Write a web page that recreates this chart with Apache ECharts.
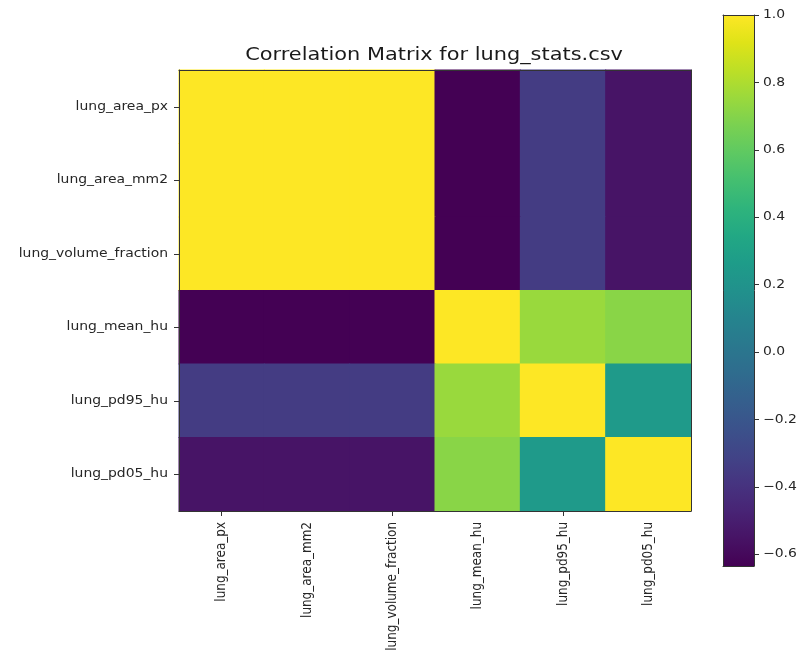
<!DOCTYPE html>
<html>
<head>
<meta charset="utf-8">
<title>Correlation Matrix for lung_stats.csv</title>
<script src="https://cdn.jsdelivr.net/npm/echarts@6/dist/echarts.min.js"></script>
<style>
  html, body { margin: 0; padding: 0; background: #fff; }
  #chart { width: 798px; height: 655px; }
</style>
</head>
<body>
<div id="chart"></div>
<script>
// Variables of the correlation matrix (same order on both axes)
const variables = ['lung_area_px', 'lung_area_mm2', 'lung_volume_fraction', 'lung_mean_hu', 'lung_pd95_hu', 'lung_pd05_hu'];

// Pearson correlation rows, one per variable
const rowAreaPx   = [1.0, 1.0, 1.0, -0.635, -0.35, -0.55];
const rowAreaMm2  = [1.0, 1.0, 1.0, -0.635, -0.35, -0.55];
const rowVolFrac  = [1.0, 1.0, 1.0, -0.635, -0.35, -0.55];
const rowMeanHu   = [-0.635, -0.635, -0.635, 1.0, 0.75, 0.71];
const rowPd95Hu   = [-0.35, -0.35, -0.35, 0.75, 1.0, 0.25];
const rowPd05Hu   = [-0.55, -0.55, -0.55, 0.71, 0.25, 1.0];
const matrixRows = [rowAreaPx, rowAreaMm2, rowVolFrac, rowMeanHu, rowPd95Hu, rowPd05Hu];

// Colour scale range and colourbar ticks
const colorMin = -0.635;
const colorMax = 1.0;
const colorbarTicks = [-0.6, -0.4, -0.2, 0.0, 0.2, 0.4, 0.6, 0.8, 1.0];

// Viridis colormap stops every 5% (low -> high)
const viridis = [
  '#440154', '#471365', '#482475', '#463480', '#414487', '#3b528b', '#355f8d',
  '#2f6c8e', '#2a788e', '#25848e', '#21918c', '#1e9c89', '#22a884', '#2fb47c',
  '#44bf70', '#5ec962', '#7ad151', '#9bd93c', '#bddf26', '#dfe318', '#fde725'
];

const heatData = [];
matrixRows.forEach((row, r) => {
  row.forEach((v, c) => heatData.push([c, r, v]));
});

const textColor = '#262626';
const fontFamily = 'DejaVu Sans';
const labelSize = 12;
const stretch = 1.16;   // the figure is rendered slightly wider than tall

const chart = echarts.init(document.getElementById('chart'), null, { renderer: 'canvas' });

const frameAxis = {
  show: true,
  z: 10,
  axisLine: { show: true, onZero: false, lineStyle: { color: '#333', width: 1 } },
  axisTick: { show: false },
  axisLabel: { show: false },
  splitLine: { show: false }
};

const tickStyle = { show: true, length: 5, lineStyle: { color: '#333' } };

function labelText(x, y, text, align, rotation) {
  const el = {
    type: 'text',
    x: x, y: y,
    rotation: rotation || 0,
    style: {
      text: text, fill: textColor, font: labelSize + 'px "' + fontFamily + '"',
      align: align, verticalAlign: 'middle'
    }
  };
  if (rotation) { el.scaleY = stretch; } else { el.scaleX = stretch; }
  return el;
}

chart.setOption({
  animation: false,
  backgroundColor: '#ffffff',
  graphic: [{
    type: 'text',
    x: 434, y: 55,
    scaleX: stretch,
    style: {
      text: 'Correlation Matrix for lung_stats.csv',
      font: '18px "DejaVu Sans"', fill: '#1a1a1a',
      align: 'center', verticalAlign: 'middle'
    }
  }],
  grid: [
    { left: 179, top: 70, width: 512, height: 441 },
    { left: 723, top: 15, width: 31, height: 551 }
  ],
  xAxis: [
    {
      type: 'category', gridIndex: 0, data: variables, position: 'bottom', z: 10,
      axisLine: { show: true, onZero: false, lineStyle: { color: '#333' } },
      axisTick: Object.assign({ alignWithLabel: true }, tickStyle),
      axisLabel: { show: false },
      splitLine: { show: false }
    },
    Object.assign({ type: 'category', gridIndex: 0, data: variables, position: 'top' }, frameAxis),
    Object.assign({ type: 'value', gridIndex: 1, min: 0, max: 1, position: 'bottom' }, frameAxis),
    Object.assign({ type: 'value', gridIndex: 1, min: 0, max: 1, position: 'top' }, frameAxis)
  ],
  yAxis: [
    {
      type: 'category', gridIndex: 0, data: variables, inverse: true, position: 'left', z: 10,
      axisLine: { show: true, onZero: false, lineStyle: { color: '#333' } },
      axisTick: Object.assign({ alignWithLabel: true }, tickStyle),
      axisLabel: { show: false },
      splitLine: { show: false }
    },
    Object.assign({ type: 'category', gridIndex: 0, data: variables, inverse: true, position: 'right' }, frameAxis),
    {
      type: 'value', gridIndex: 1, min: colorMin, max: colorMax, position: 'right', z: 10,
      axisLine: { show: true, onZero: false, lineStyle: { color: '#333' } },
      axisTick: Object.assign({ customValues: colorbarTicks }, tickStyle),
      axisLabel: { show: false, customValues: colorbarTicks },
      splitLine: { show: false }
    },
    Object.assign({ type: 'value', gridIndex: 1, min: colorMin, max: colorMax, position: 'left' }, frameAxis)
  ],
  visualMap: {
    show: false,
    type: 'continuous',
    min: colorMin,
    max: colorMax,
    seriesIndex: 0,
    dimension: 2,
    inRange: { color: viridis }
  },
  series: [
    {
      // correlation cells, coloured by the viridis visual map
      type: 'custom',
      xAxisIndex: 0,
      yAxisIndex: 0,
      data: heatData,
      encode: { x: 0, y: 1 },
      renderItem: function (params, api) {
        const c = api.coord([api.value(0), api.value(1)]);
        const s = api.size([1, 1]);
        const color = api.visual('color');
        // cells overlap by half a pixel so neighbouring cells show no seam
        return {
          type: 'rect',
          shape: { x: c[0] - s[0] / 2 - 0.5, y: c[1] - s[1] / 2 - 0.5, width: s[0] + 1, height: s[1] + 1 },
          style: { fill: color }
        };
      },
      silent: true,
      z: 1
    },
    {
      // colourbar gradient spanning the full colour range
      type: 'custom',
      xAxisIndex: 2,
      yAxisIndex: 2,
      data: [[0, colorMin, 1, colorMax]],
      renderItem: function (params, api) {
        const p1 = api.coord([api.value(0), api.value(3)]);
        const p2 = api.coord([api.value(2), api.value(1)]);
        const stops = viridis.slice().reverse().map((col, i, arr) => ({ offset: i / (arr.length - 1), color: col }));
        return {
          type: 'rect',
          shape: { x: p1[0], y: p1[1], width: p2[0] - p1[0], height: p2[1] - p1[1] },
          style: { fill: new echarts.graphic.LinearGradient(0, 0, 0, 1, stops) }
        };
      },
      silent: true,
      z: 1
    },
    {
      // row labels left of the matrix
      type: 'custom',
      xAxisIndex: 0,
      yAxisIndex: 0,
      data: variables.map((name, i) => [0, i, name]),
      encode: { x: 0, y: 1 },
      renderItem: function (params, api) {
        const c = api.coord([0, api.value(1)]);
        const left = params.coordSys.x;
        return labelText(left - 11, c[1], variables[api.value(1)], 'right', 0);
      },
      clip: false,
      silent: true,
      z: 5
    },
    {
      // column labels under the matrix, rotated
      type: 'custom',
      xAxisIndex: 0,
      yAxisIndex: 0,
      data: variables.map((name, i) => [i, 0, name]),
      encode: { x: 0, y: 1 },
      renderItem: function (params, api) {
        const c = api.coord([api.value(0), 0]);
        const bottom = params.coordSys.y + params.coordSys.height;
        return labelText(c[0], bottom + 11, variables[api.value(0)], 'right', Math.PI / 2);
      },
      clip: false,
      silent: true,
      z: 5
    },
    {
      // colourbar tick labels
      type: 'custom',
      xAxisIndex: 2,
      yAxisIndex: 2,
      data: colorbarTicks.map(v => [1, v]),
      encode: { x: 0, y: 1 },
      renderItem: function (params, api) {
        const v = api.value(1);
        const c = api.coord([1, v]);
        const txt = (v < 0 ? '\u2212' : '') + Math.abs(v).toFixed(1);
        return labelText(c[0] + 9, c[1], txt, 'left', 0);
      },
      clip: false,
      silent: true,
      z: 5
    }
  ]
});
</script>
</body>
</html>
